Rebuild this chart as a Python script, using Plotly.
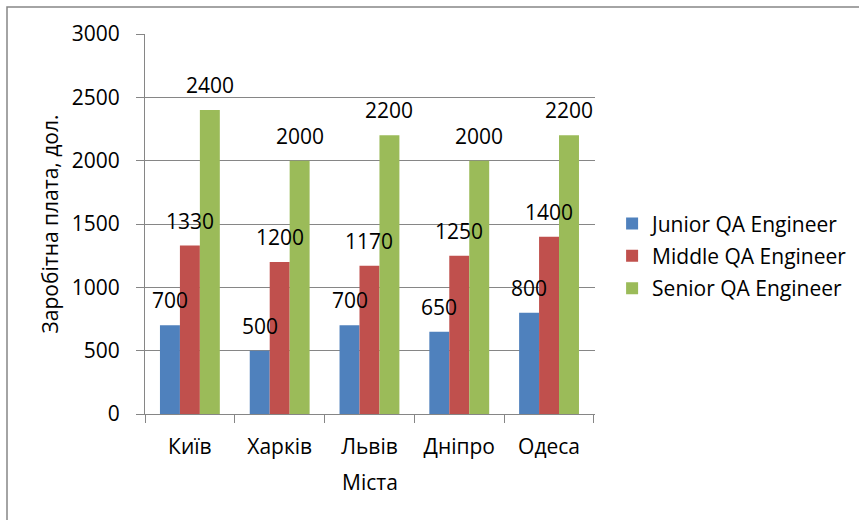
import plotly.graph_objects as go

cities = ["Київ", "Харків", "Львів", "Дніпро", "Одеса"]
junior = [700, 500, 700, 650, 800]
middle = [1330, 1200, 1170, 1250, 1400]
senior = [2400, 2000, 2200, 2000, 2200]
series_names = ["Junior QA Engineer", "Middle QA Engineer", "Senior QA Engineer"]
colors = ["#4F81BD", "#C0504D", "#9BBB59"]
y_ticks = [0, 500, 1000, 1500, 2000, 2500, 3000]

FONT = "Open Sans"
FS = 21
GRAY = "#868686"

series = [junior, middle, senior]
fig = go.Figure()
for name, vals, col in zip(series_names, series, colors):
    fig.add_trace(go.Bar(x=cities, y=vals, name=name, marker=dict(color=col, line=dict(width=0)),
                         legendgroup=name))

bargap = 1 / 3
bw = (1 - bargap) / len(series)
annotations = []
for i, vals in enumerate(series):
    off = (i - (len(series) - 1) / 2) * bw
    for j, v in enumerate(vals):
        annotations.append(dict(x=j + off, y=v, xref="x", yref="y", text=str(v), showarrow=False,
                                yanchor="middle", yshift=25, font=dict(family=FONT, size=FS, color="#000")))

fig.update_layout(
    width=859, height=520,
    margin=dict(l=145, r=264, t=34, b=106, autoexpand=False),
    paper_bgcolor="white", plot_bgcolor="white",
    barmode="group", bargap=bargap, bargroupgap=0,
    font=dict(family=FONT, size=FS, color="#000"),
    showlegend=True,
    legend=dict(x=1.038, y=0.416, xanchor="left", yanchor="middle", traceorder="grouped",
                tracegroupgap=2, font=dict(family=FONT, size=FS), bgcolor="rgba(0,0,0,0)"),
    annotations=annotations,
    shapes=[dict(type="rect", xref="paper", yref="paper", x0=(7 - 145) / 450, x1=(880 - 145) / 450,
                 y0=(414 - 540) / 380, y1=(414 - 7) / 380, line=dict(color=GRAY, width=1.5),
                 fillcolor="rgba(0,0,0,0)", layer="below")],
)
fig.update_xaxes(type="category", showline=True, linecolor=GRAY, linewidth=1, ticks="outside",
                 tickson="boundaries", ticklen=8, tickcolor=GRAY, showgrid=False,
                 ticklabelstandoff=14,
                 title=dict(text="Міста", standoff=16, font=dict(size=FS)),
                 automargin=False, tickfont=dict(size=FS))
fig.update_yaxes(range=[0, 3000], tickvals=y_ticks, showline=True, linecolor=GRAY, linewidth=1,
                 ticks="outside", ticklen=8, tickcolor=GRAY, showgrid=True, gridcolor=GRAY,
                 gridwidth=1, zeroline=False, ticklabelstandoff=12,
                 title=dict(text="Заробітна плата, дол.", standoff=7, font=dict(size=FS)),
                 automargin=False, tickfont=dict(size=FS))

fig.write_html("out.html", config={"displayModeBar": False},
               post_script="document.body.style.margin='0';")
